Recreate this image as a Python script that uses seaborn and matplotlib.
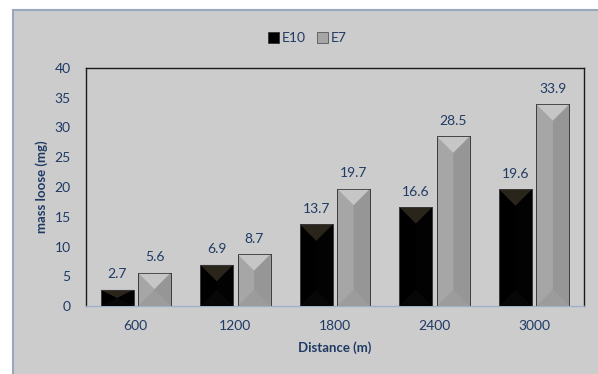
import matplotlib
matplotlib.use("Agg")
import matplotlib.pyplot as plt
from matplotlib.patches import Rectangle, Polygon
import seaborn as sns
import pandas as pd

distances = ["600", "1200", "1800", "2400", "3000"]
e10 = [2.7, 6.9, 13.7, 16.6, 19.6]
e7 = [5.6, 8.7, 19.7, 28.5, 33.9]
series = ["E10", "E7"]

df = pd.DataFrame({
    "Distance": distances * 2,
    "mass": e10 + e7,
    "series": [series[0]] * len(e10) + [series[1]] * len(e7),
})

sns.set_style("white")
plt.rcParams["font.family"] = ["Lato", "DejaVu Sans"]

navy = "#1f3a64"
panel = "#cccccc"

fig = plt.figure(figsize=(5.98, 3.74), dpi=100)
fig.patch.set_facecolor("white")
fig.patches.append(Rectangle((13 / 598, -0.01), 1, 1.01 - 10 / 374, transform=fig.transFigure,
                             facecolor=panel, edgecolor="#9aa8bd", linewidth=1.5, zorder=-10))

ax = fig.add_axes([86 / 598, 1 - 306 / 374, (584 - 86) / 598, (306 - 68) / 374])
ax.set_facecolor(panel)

sns.barplot(data=df, x="Distance", y="mass", hue="series", order=distances,
            hue_order=series, palette={"E10": "#000000", "E7": "#a6a6a6"},
            width=0.75, gap=0.12, ax=ax, legend=False, linewidth=0.6,
            edgecolor="#3a3a3a")

ax.set_ylim(0, 40)
ax.set_yticks(range(0, 41, 5))
ax.set_xlim(-0.5, len(distances) - 0.5)

# bevelled faces on each bar
bevel = {
    "E10": {"top": "#29251a", "bottom": "#070707", "right": "#050505"},
    "E7": {"top": "#c6c6c6", "bottom": "#9c9c9c", "right": "#8a8a8a"},
}
bars = list(ax.patches)
for i, p in enumerate(bars):
    s = series[i // len(distances)]
    x0, y0 = p.get_x(), p.get_y()
    w, h = p.get_width(), p.get_height()
    dy_pix = ax.transData.transform((0, 1))[1] - ax.transData.transform((0, 0))[1]
    dx_pix = ax.transData.transform((w, 0))[0] - ax.transData.transform((0, 0))[0]
    dy = min((dx_pix * 0.5) / dy_pix, h / 2)
    c = bevel[s]
    xm = x0 + w / 2
    ax.add_patch(Polygon([(x0, y0 + h), (x0 + w, y0 + h), (xm, y0 + h - dy)],
                         closed=True, facecolor=c["top"], edgecolor="none", zorder=3))
    ax.add_patch(Polygon([(x0, y0), (x0 + w, y0), (xm, y0 + dy)],
                         closed=True, facecolor=c["bottom"], edgecolor="none", zorder=3))
    ax.add_patch(Polygon([(xm, y0 + dy), (x0 + w, y0), (x0 + w, y0 + h), (xm, y0 + h - dy)],
                         closed=True, facecolor=c["right"], edgecolor="none", zorder=3, alpha=0.55))
    ax.add_patch(Rectangle((x0, y0), w, h, facecolor="none", edgecolor="#3a3a3a",
                           linewidth=0.6, zorder=4))
    ax.text(xm, y0 + h + 1.6, f"{h:g}", ha="center", va="bottom", fontsize=10, color=navy)

ax.tick_params(axis="both", colors=navy, labelsize=10, length=0)
ax.tick_params(axis="x", pad=10)
ax.tick_params(axis="y", pad=11)
for lbl in ax.get_xticklabels() + ax.get_yticklabels():
    lbl.set_color(navy)

for side in ["left", "top", "right"]:
    ax.spines[side].set_visible(True)
    ax.spines[side].set_color("#1a1a1a")
    ax.spines[side].set_linewidth(1.0)
ax.spines["bottom"].set_color("#9fb0c8")
ax.spines["bottom"].set_linewidth(1.0)

ax.set_xlabel("Distance (m)", fontsize=9.5, fontweight="bold", color=navy, labelpad=7)
ax.set_ylabel("mass loose (mg)", fontsize=9.5, fontweight="bold", color=navy, labelpad=5)

# legend
handles = [Rectangle((0, 0), 1, 1, facecolor="#000000", edgecolor="#333333", linewidth=0.6),
           Rectangle((0, 0), 1, 1, facecolor="#a6a6a6", edgecolor="#555555", linewidth=0.6)]
fig.legend(handles, series, loc="center", bbox_to_anchor=(307 / 598, 1 - 38 / 374), ncol=2,
           frameon=False, fontsize=10, labelcolor=navy, handlelength=0.8, handleheight=0.8,
           handletextpad=0.2, columnspacing=0.8)

fig.savefig("out.png", dpi=100)
